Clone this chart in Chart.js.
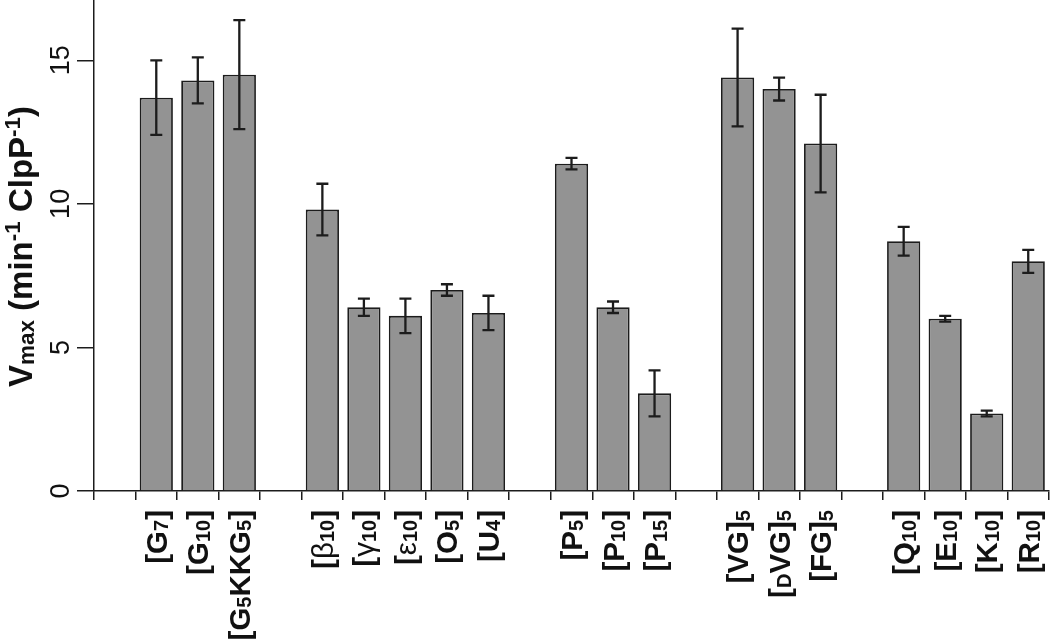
<!DOCTYPE html>
<html><head><meta charset="utf-8">
<script src="https://cdn.jsdelivr.net/npm/chart.js@4.4.1/dist/chart.umd.min.js"></script>
<style>html,body{margin:0;padding:0;background:#fff;}#wrap{width:1050px;height:640px;position:relative;}</style>
</head><body><div id="wrap"><canvas id="c"></canvas></div>
<script>
// Category labels (empty strings are the gaps between groups); _{..} = subscript, ^{..} = superscript
const categories = ['', '[G_{7}]', '[G_{10}]', '[G_{5}KKG_{5}]', '',
  '[β_{10}]', '[γ_{10}]', '[ε_{10}]', '[O_{5}]', '[U_{4}]', '',
  '[P_{5}]', '[P_{10}]', '[P_{15}]', '',
  '[VG]_{5}', '[_{D}VG]_{5}', '[FG]_{5}', '',
  '[Q_{10}]', '[E_{10}]', '[K_{10}]', '[R_{10}]'];
const vmax = [null, 13.7, 14.3, 14.5, null,
  9.8, 6.4, 6.1, 7.0, 6.2, null,
  11.4, 6.4, 3.4, null,
  14.4, 14.0, 12.1, null,
  8.7, 6.0, 2.7, 8.0];
const vmaxError = [null, 1.3, 0.8, 1.9, null,
  0.9, 0.3, 0.6, 0.2, 0.6, null,
  0.2, 0.2, 0.8, null,
  1.7, 0.4, 1.7, null,
  0.5, 0.1, 0.1, 0.4];
const yTicks = [0, 5, 10, 15];
const yTitle = 'V_{max} (min^{-1} ClpP^{-1})';

const FAMILY = '"Liberation Sans", Arial, sans-serif';
const INK = '#1c1c1c';

function parseRich(s){
  const out=[]; const re=/([_^])\{([^}]*)\}/g; let last=0, m;
  while((m=re.exec(s))){ if(m.index>last) out.push({t:s.slice(last,m.index),k:''}); out.push({t:m[2],k:m[1]}); last=re.lastIndex; }
  if(last<s.length) out.push({t:s.slice(last),k:''});
  return out;
}
function pieces(s,size,weight){
  const res=[];
  for(const seg of parseRich(s)){
    const sz = seg.k ? size*0.68 : size;
    const dy = seg.k==='_' ? size*0.05 : seg.k==='^' ? -size*0.36 : 0;
    for(const part of (seg.t.match(/[\u0370-\u03FF]+|[^\u0370-\u03FF]+/g)||[])){
      const greek=/[\u0370-\u03FF]/.test(part);
      res.push({t:part, font:`${greek?'normal':weight} ${sz}px ${FAMILY}`, dy});
    }
  }
  return res;
}
function drawRich(ctx,s,x,y,size,align,weight){
  const ps=pieces(s,size,weight); let w=0;
  for(const p of ps){ ctx.font=p.font; p.w=ctx.measureText(p.t).width; w+=p.w; }
  let cx = align==='right' ? x-w : align==='center' ? x-w/2 : x;
  ctx.textAlign='left'; ctx.textBaseline='alphabetic';
  for(const p of ps){ ctx.font=p.font; ctx.fillText(p.t,cx,y+p.dy); cx+=p.w; }
}

const errorBars = {
  id:'errorBars',
  afterDatasetsDraw(chart){
    const ctx=chart.ctx, ys=chart.scales.y, meta=chart.getDatasetMeta(0);
    ctx.save(); ctx.strokeStyle=INK; ctx.lineWidth=2.3; ctx.lineCap='butt';
    vmax.forEach((v,i)=>{
      if(v==null||vmaxError[i]==null) return;
      const x=meta.data[i].x, t=ys.getPixelForValue(v+vmaxError[i]), b=ys.getPixelForValue(v-vmaxError[i]);
      ctx.beginPath();
      ctx.moveTo(x,t); ctx.lineTo(x,b);
      ctx.moveTo(x-6,t); ctx.lineTo(x+6,t);
      ctx.moveTo(x-6,b); ctx.lineTo(x+6,b);
      ctx.stroke();
    });
    ctx.restore();
  }
};

const richText = {
  id:'richText',
  afterDraw(chart){
    const ctx=chart.ctx, xs=chart.scales.x, ys=chart.scales.y;
    ctx.save(); ctx.fillStyle='#111';
    categories.forEach((lab,i)=>{
      if(!lab) return;
      const px=xs.getPixelForValue(i);
      ctx.save(); ctx.translate(px+10.5, xs.bottom+10); ctx.rotate(-Math.PI/2);
      drawRich(ctx,lab,0,0,29.5,'right','bold'); ctx.restore();
    });
    yTicks.forEach(v=>{
      const py=ys.getPixelForValue(v);
      ctx.save(); ctx.translate(ys.left-8, py); ctx.rotate(-Math.PI/2);
      drawRich(ctx,String(v),0,0,27,'center','normal'); ctx.restore();
    });
    ctx.save(); ctx.translate(32, (chart.chartArea.top+chart.chartArea.bottom)/2+1); ctx.rotate(-Math.PI/2);
    drawRich(ctx,yTitle,0,0,33,'center','bold'); ctx.restore();
    ctx.restore();
  }
};

new Chart(document.getElementById('c'), {
  type:'bar',
  data:{ labels:categories, datasets:[{ data:vmax, backgroundColor:'#939393', borderColor:INK, borderWidth:1.8, barPercentage:0.8, categoryPercentage:1.0 }] },
  options:{
    responsive:true, maintainAspectRatio:false, animation:false, devicePixelRatio:1,
    layout:{ padding:{ left:77, right:1, top:0, bottom:140 } },
    plugins:{ legend:{display:false}, tooltip:{enabled:false} },
    scales:{
      x:{ type:'category', offset:true,
        grid:{ offset:true, drawOnChartArea:false, drawTicks:true, tickLength:9, color:INK, lineWidth:1.5 },
        border:{ display:true, color:INK, width:1.5 },
        ticks:{ display:false } },
      y:{ min:0, max:17.1,
        afterBuildTicks(scale){ scale.ticks = yTicks.map(v=>({value:v})); },
        grid:{ drawOnChartArea:false, drawTicks:true, tickLength:17, color:INK, lineWidth:1.5 },
        border:{ display:true, color:INK, width:1.5 },
        ticks:{ display:false } }
    }
  },
  plugins:[errorBars, richText]
});
</script></body></html>
